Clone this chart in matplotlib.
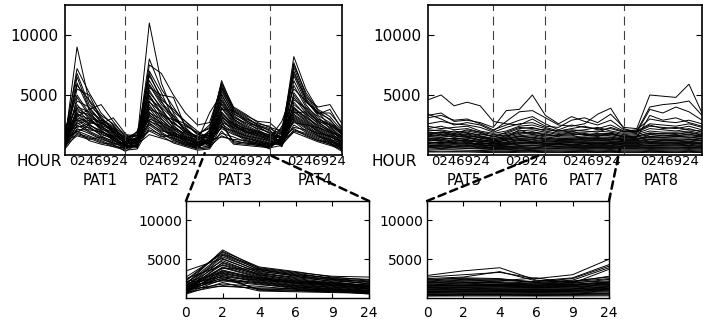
import numpy as np
import matplotlib
matplotlib.use("Agg")
import matplotlib.pyplot as plt
from matplotlib.patches import ConnectionPatch

# hours measured per patient pattern (PAT6 has only four samples)
HOURS = ["0", "2", "4", "6", "9", "24"]
HOURS_PAT6 = ["0", "2", "9", "24"]

# one row per gene, one column per hour (counts)
pat1 = [
    [1200, 9000, 4500, 3000, 2200, 1200], [1500, 7200, 5200, 3500, 2500, 1100],
    [1800, 6800, 4200, 3200, 2000, 900], [900, 6000, 3800, 4200, 2800, 1500],
    [1100, 5500, 5000, 3000, 1800, 1000], [2000, 5000, 3500, 2600, 2200, 1300],
    [700, 4800, 3300, 2500, 1500, 800], [1300, 4500, 4000, 2800, 2000, 1400],
    [1600, 4200, 3000, 2200, 1600, 700], [800, 4000, 3600, 3000, 2400, 1600],
    [2300, 3900, 3200, 2000, 1400, 900], [1000, 3800, 2800, 2400, 1700, 1000],
    [1400, 3600, 3400, 2600, 3100, 1800], [600, 3500, 2600, 1800, 1300, 600],
    [1900, 3400, 3000, 2300, 1900, 1200], [1200, 3300, 2500, 2000, 1500, 800],
    [900, 3200, 3800, 2100, 1200, 700], [1700, 3100, 2700, 2500, 2000, 1100],
    [1100, 3000, 2400, 1600, 1100, 500], [2500, 2900, 2200, 1900, 1600, 1300],
    [800, 2800, 3100, 2700, 2100, 1500], [1300, 2700, 2000, 1500, 1000, 600],
    [1500, 2600, 2900, 2200, 1800, 1000], [700, 2500, 1900, 1400, 900, 300],
    [1000, 2400, 2300, 1700, 1400, 900], [2000, 2300, 2600, 2900, 2300, 1400],
    [600, 2200, 1800, 1300, 1000, 700], [1200, 2100, 2100, 1900, 1500, 1100],
    [900, 2000, 1600, 1200, 800, 500], [1400, 1900, 2500, 2000, 1300, 800],
    [500, 1800, 1500, 1100, 700, 400], [1100, 1700, 1400, 1000, 900, 1000],
    [1800, 5800, 4600, 3300, 2600, 1700], [1000, 6500, 3900, 2700, 1900, 1200],
    [1300, 2000, 1200, 900, 700, 600], [800, 1600, 1300, 1500, 1200, 900],
]
pat2 = [
    [1400, 11000, 6000, 3500, 2000, 1500], [1200, 8000, 5500, 4000, 2500, 1800],
    [1000, 7500, 6800, 5000, 3500, 2500], [1600, 7000, 5200, 3000, 2200, 1400],
    [900, 6600, 4800, 3600, 2800, 2000], [1800, 6200, 4500, 2800, 1800, 1200],
    [800, 5800, 4200, 3200, 2000, 1000], [1300, 5600, 5000, 4800, 2300, 1300],
    [700, 5400, 3800, 2500, 1500, 900], [1500, 5200, 4000, 3000, 2600, 1700],
    [1100, 5000, 3500, 2200, 1400, 800], [2000, 4900, 3300, 2700, 1900, 1600],
    [900, 4700, 3900, 2400, 1700, 1100], [1200, 4500, 3000, 2000, 1200, 700],
    [600, 4400, 3600, 2600, 2100, 1500], [1400, 4200, 2800, 1900, 1300, 900],
    [1000, 4000, 3200, 2300, 1600, 1000], [1700, 3900, 2600, 1800, 1100, 600],
    [800, 3800, 3400, 2900, 2400, 1900], [1300, 3600, 2500, 1700, 1200, 800],
    [1100, 3500, 3000, 2100, 1500, 1200], [600, 3400, 2300, 1500, 1000, 500],
    [1500, 3300, 2700, 2200, 1800, 1400], [900, 3200, 2200, 1400, 900, 600],
    [1200, 3000, 2600, 1900, 1400, 1000], [1900, 2900, 2100, 1600, 1300, 1100],
    [700, 2800, 2400, 1600, 1100, 700], [1000, 2700, 1900, 1300, 800, 500],
    [1400, 2600, 2000, 1800, 1500, 1300], [800, 2500, 1800, 1200, 900, 800],
    [500, 2300, 1600, 1000, 700, 400], [1100, 2100, 1700, 1400, 1000, 900],
    [1600, 6800, 4600, 3800, 2800, 1700], [1200, 5900, 4400, 3300, 2000, 1300],
    [900, 1700, 1400, 1100, 800, 600], [1000, 2000, 1500, 1700, 1300, 1000],
]
pat3 = [
    [1800, 6200, 3800, 3200, 2500, 2000], [2200, 5900, 3600, 3000, 2600, 2400],
    [2700, 5700, 3900, 3300, 2800, 2700], [1500, 5500, 3400, 2900, 2300, 1800],
    [1300, 5300, 3500, 2800, 2100, 1600], [3500, 5100, 3200, 2500, 2000, 1500],
    [1000, 5000, 3300, 2600, 2200, 1900], [2000, 4800, 3000, 2400, 1900, 1400],
    [800, 4600, 3100, 2700, 2400, 2100], [1600, 4500, 2900, 2200, 1700, 1300],
    [1200, 4300, 3000, 2300, 1800, 1500], [2500, 4200, 2800, 2000, 1600, 1200],
    [900, 4000, 2700, 2100, 1900, 1700], [1400, 3900, 2600, 1900, 1500, 1100],
    [1100, 3800, 3700, 3100, 2500, 2200], [600, 3600, 2500, 1800, 1400, 1000],
    [1700, 3500, 2400, 2000, 1700, 1400], [1300, 3400, 2600, 2200, 2000, 1600],
    [800, 3300, 2300, 1700, 1300, 900], [2100, 3200, 2200, 1600, 1200, 800],
    [1000, 3100, 2500, 2000, 1800, 1500], [1500, 3000, 2100, 1500, 1100, 700],
    [700, 2900, 2000, 1400, 1100, 900], [1200, 2800, 1000, 900, 800, 700],
    [1900, 2700, 2300, 1900, 1600, 1300], [900, 2600, 1900, 1300, 1000, 600],
    [1400, 2500, 1100, 1000, 900, 800], [600, 2400, 1800, 1200, 900, 500],
    [1100, 2300, 2000, 1600, 1400, 1200], [1600, 2200, 1700, 1400, 1200, 1000],
    [500, 2000, 900, 800, 700, 600], [1000, 1800, 1500, 1100, 900, 800],
    [2300, 6000, 4000, 3400, 2700, 2300], [1800, 5600, 3700, 2900, 2400, 1800],
    [700, 1600, 1200, 1000, 800, 600], [1200, 1500, 1300, 1200, 1000, 900],
]
pat4 = [
    [1500, 8200, 5500, 3800, 3200, 2000], [1200, 7700, 5000, 3500, 3500, 2300],
    [1800, 7300, 4800, 4000, 4200, 2600], [1000, 7000, 4600, 3300, 2700, 1800],
    [2200, 6600, 4400, 3600, 2400, 1500], [900, 6200, 4200, 3000, 2500, 1700],
    [1400, 5800, 4000, 3200, 2200, 1200], [2800, 5500, 4500, 3400, 3800, 2100],
    [700, 5200, 3800, 2800, 2000, 1000], [1600, 5000, 3700, 2900, 2300, 1400],
    [1100, 4800, 3500, 2600, 1900, 1100], [2000, 4600, 3900, 3000, 2600, 1900],
    [800, 4400, 3300, 2400, 1800, 900], [1300, 4200, 3400, 2700, 2100, 1300],
    [1700, 4000, 3100, 2500, 2000, 1600], [900, 3900, 3000, 2200, 1600, 800],
    [1200, 3800, 3200, 2300, 1700, 1000], [1500, 3700, 2900, 2100, 1500, 1200],
    [1000, 3600, 2800, 2000, 1400, 700], [2400, 3500, 3600, 2800, 2500, 1800],
    [800, 3400, 2700, 1900, 1300, 600], [1300, 3300, 2600, 2000, 1500, 1100],
    [1100, 3200, 2500, 1800, 1200, 500], [1900, 3100, 2400, 1700, 1100, 900],
    [700, 3000, 2300, 1600, 1000, 400], [1400, 2900, 2200, 1800, 1600, 1400],
    [1000, 2800, 2000, 1500, 1200, 800], [1600, 2700, 2500, 2300, 1900, 1500],
    [900, 2500, 1900, 1400, 1000, 600], [1200, 2300, 2100, 1600, 1300, 1000],
    [800, 2100, 1800, 1300, 900, 300], [1100, 2000, 1700, 1200, 1100, 700],
    [2000, 7500, 5200, 3700, 2900, 1900], [1300, 6800, 4700, 3500, 3000, 1600],
    [1500, 2200, 1600, 1200, 900, 600], [900, 1900, 1500, 1100, 800, 500],
]
pat5 = [
    [4600, 5000, 4100, 4400, 4100, 2800], [3300, 3500, 2800, 2900, 2700, 2300],
    [3400, 3000, 2500, 2700, 2500, 2000], [3100, 3300, 2900, 3000, 2600, 2100],
    [2600, 2800, 2600, 2500, 2300, 1900], [2400, 2200, 2300, 2400, 2000, 1800],
    [2200, 2400, 2100, 2200, 1900, 1700], [2000, 2100, 1900, 2000, 1800, 1500],
    [1900, 1800, 2000, 1800, 1700, 1600], [1800, 1900, 1700, 1900, 1600, 1400],
    [1700, 1600, 1800, 1600, 1500, 1300], [1600, 1700, 1500, 1700, 1400, 1200],
    [1500, 1500, 1600, 1500, 1300, 1100], [1400, 1300, 1400, 1400, 1200, 1000],
    [1300, 1400, 1300, 1200, 1100, 1200], [1200, 1200, 1100, 1300, 1000, 900],
    [1100, 1000, 1200, 1100, 900, 1000], [1000, 1100, 1000, 1000, 800, 800],
    [900, 900, 900, 900, 900, 700], [800, 800, 850, 800, 700, 600],
    [700, 750, 700, 750, 650, 600], [600, 650, 600, 600, 550, 500],
    [500, 550, 500, 550, 500, 450], [400, 450, 420, 400, 380, 350],
    [300, 320, 300, 310, 300, 280], [2100, 2000, 1800, 2100, 1900, 1500],
    [1850, 1700, 1650, 1750, 1550, 1350], [1550, 1450, 1350, 1450, 1250, 1150],
    [1250, 1150, 1250, 1150, 1050, 950], [950, 1050, 950, 1050, 850, 750],
    [650, 700, 650, 700, 600, 550], [250, 250, 250, 250, 220, 200],
    [1650, 1900, 1600, 1550, 1450, 1250], [1350, 1250, 1450, 1250, 1150, 1050],
    [1050, 950, 1050, 950, 950, 850], [750, 850, 750, 850, 750, 650],
]
pat6 = [
    [2600, 2500, 3000, 2400], [3700, 3800, 5000, 3300], [2800, 3600, 3700, 3100],
    [2500, 2900, 3200, 2600], [2300, 2600, 2700, 2300], [2000, 2400, 2500, 2200],
    [1800, 2200, 2300, 2000], [1700, 2000, 2100, 1900], [1600, 1900, 1800, 1700],
    [1500, 1700, 1900, 1800], [1400, 1600, 1700, 1500], [1300, 1500, 1600, 1400],
    [1200, 1400, 1400, 1300], [1100, 1300, 1300, 1200], [1000, 1200, 1250, 1100],
    [950, 1100, 1100, 1000], [900, 1000, 1050, 950], [800, 900, 950, 900],
    [700, 800, 850, 800], [650, 700, 750, 700], [600, 650, 650, 600],
    [500, 550, 550, 500], [450, 480, 450, 420], [350, 380, 380, 350],
    [280, 300, 300, 280], [1900, 2300, 2200, 2100], [1600, 1800, 1950, 1650],
    [1350, 1550, 1450, 1350], [1050, 1250, 1150, 1150], [850, 950, 1000, 850],
    [550, 600, 600, 550], [200, 220, 230, 200], [1450, 2100, 1700, 1600],
    [1250, 1350, 1500, 1250], [900, 1050, 1100, 1000], [700, 750, 800, 750],
]
pat7 = [
    [2300, 2900, 3100, 2700, 3400, 2300], [2600, 3200, 2800, 2500, 2900, 2100],
    [2500, 2400, 2600, 3400, 3900, 2200], [2100, 2500, 2300, 2200, 2500, 2000],
    [2000, 2200, 2400, 2100, 2200, 1900], [1900, 2000, 2100, 2300, 2000, 1800],
    [1800, 1900, 1900, 2000, 1900, 1700], [1700, 1800, 1700, 1800, 1800, 1600],
    [1600, 1600, 1800, 1600, 1700, 1500], [1500, 1500, 1600, 1700, 1600, 1400],
    [1400, 1400, 1500, 1500, 1500, 1300], [1300, 1300, 1400, 1400, 1400, 1250],
    [1200, 1250, 1300, 1300, 1300, 1200], [1100, 1150, 1200, 1200, 1200, 1100],
    [1050, 1100, 1100, 1100, 1100, 1050], [950, 1000, 1000, 1000, 1000, 950],
    [900, 900, 950, 950, 950, 900], [850, 850, 900, 850, 900, 800],
    [750, 800, 800, 800, 800, 750], [650, 700, 700, 700, 700, 650],
    [600, 620, 640, 620, 640, 600], [500, 520, 540, 520, 540, 500],
    [420, 440, 450, 430, 450, 420], [340, 360, 370, 350, 370, 340],
    [270, 290, 300, 280, 300, 270], [2000, 2100, 2000, 1900, 2300, 1950],
    [1650, 1700, 1750, 1650, 1750, 1550], [1350, 1400, 1450, 1350, 1450, 1350],
    [1150, 1200, 1150, 1250, 1150, 1150], [850, 900, 950, 900, 950, 850],
    [550, 580, 600, 570, 600, 550], [200, 210, 220, 210, 220, 200],
    [1550, 2000, 1650, 1550, 1850, 1450], [1250, 1300, 1350, 1450, 1300, 1250],
    [1000, 1050, 1050, 1050, 1050, 1000], [700, 750, 750, 750, 750, 700],
]
pat8 = [
    [2200, 5000, 4900, 4800, 5900, 3500], [2000, 4000, 4200, 4300, 4500, 3300],
    [1900, 3800, 3500, 4000, 3600, 2900], [2100, 3000, 2800, 2700, 2900, 2600],
    [2000, 2600, 2500, 2400, 2600, 2300], [1900, 2400, 2300, 2200, 2400, 2100],
    [1800, 2200, 2100, 2000, 2200, 1900], [1700, 2000, 1900, 1900, 2000, 1800],
    [1600, 1800, 1800, 1700, 1900, 1700], [1500, 1700, 1600, 1600, 1700, 1600],
    [1400, 1550, 1500, 1500, 1600, 1500], [1300, 1450, 1400, 1400, 1450, 1350],
    [1200, 1350, 1300, 1300, 1350, 1250], [1100, 1250, 1200, 1200, 1250, 1150],
    [1050, 1150, 1100, 1100, 1150, 1050], [950, 1050, 1000, 1000, 1050, 950],
    [900, 950, 950, 900, 950, 900], [800, 850, 850, 850, 900, 800],
    [750, 800, 780, 760, 800, 750], [650, 700, 680, 660, 700, 650],
    [600, 640, 620, 600, 640, 600], [500, 540, 520, 500, 540, 500],
    [420, 450, 440, 420, 450, 420], [340, 370, 360, 340, 370, 340],
    [270, 300, 290, 270, 300, 270], [1950, 2500, 2200, 2300, 2100, 2000],
    [1550, 1850, 1750, 1800, 1850, 1650], [1350, 1500, 1450, 1550, 1500, 1400],
    [1150, 1300, 1250, 1200, 1300, 1200], [850, 950, 900, 950, 1000, 900],
    [550, 600, 580, 560, 600, 560], [200, 220, 210, 200, 220, 200],
    [1450, 3300, 2900, 3100, 2700, 2400], [1250, 1700, 1650, 1600, 1750, 1500],
    [1000, 1100, 1050, 1050, 1100, 1000], [700, 780, 760, 760, 780, 700],
]
# close-up of the low-expression group (lower right panel)
pat7_detail = [
    [2900, 3500, 3900, 2300, 2100, 2800], [2700, 3000, 3300, 2500, 3000, 5000],
    [2500, 2700, 3400, 2200, 2600, 4300], [2400, 2500, 2400, 2100, 2500, 4100],
    [2200, 2400, 2300, 2000, 2300, 3900], [2100, 2300, 2200, 2600, 1900, 3700],
    [2000, 2200, 2100, 1900, 2100, 2500], [1900, 2000, 2000, 1800, 2000, 2200],
    [1800, 1900, 1800, 1700, 1800, 2000], [1700, 1800, 1700, 1600, 1700, 1900],
    [1600, 1650, 1600, 1500, 1600, 1800], [1500, 1550, 1500, 1450, 1500, 1700],
    [1400, 1450, 1400, 1350, 1400, 1600], [1300, 1350, 1300, 1250, 1300, 1500],
    [1200, 1250, 1200, 1150, 1200, 1400], [1100, 1150, 1100, 1050, 1100, 1300],
    [1000, 1050, 1000, 950, 1000, 1200], [900, 950, 900, 900, 950, 1100],
    [800, 850, 850, 800, 850, 1000], [700, 750, 750, 700, 750, 900],
    [600, 650, 650, 620, 650, 800], [500, 550, 550, 520, 550, 650],
    [400, 450, 450, 420, 450, 500], [300, 350, 350, 320, 350, 400],
    [250, 260, 260, 250, 260, 280], [1950, 2100, 1900, 1800, 1900, 2400],
    [1650, 1700, 1750, 1650, 1750, 2100], [1350, 1400, 1450, 1300, 1450, 1750],
    [1050, 1100, 1150, 1100, 1150, 1450], [750, 800, 800, 850, 800, 1150],
    [450, 500, 500, 480, 500, 600], [2300, 2600, 2500, 2000, 2200, 2700],
    [1550, 1600, 1650, 1550, 1650, 2000], [850, 900, 950, 900, 950, 1250],
]

YMAX = 12500
YTICKS = [5000, 10000]

plt.rcParams["font.family"] = ["DejaVu Sans"]
fig = plt.figure(figsize=(7.03, 3.22), dpi=100)

ax_tl = fig.add_axes([65 / 703, 167 / 322, 277 / 703, 150 / 322])
ax_tr = fig.add_axes([428 / 703, 167 / 322, 274 / 703, 150 / 322])
ax_bl = fig.add_axes([186 / 703, 24 / 322, 183 / 703, 97 / 322])
ax_br = fig.add_axes([427 / 703, 24 / 322, 182 / 703, 97 / 322])


def draw_overview(ax, pats, names, hour_sets, name_x, hour_dx):
    data = np.hstack([np.asarray(p, float) for p in pats])
    x = np.arange(1, data.shape[1] + 1)
    for row in data:
        ax.plot(x, row, color="black", lw=0.7)
    # dashed separators at the last sample of each pattern
    ends = np.cumsum([len(p[0]) for p in pats])
    for e in ends[:-1]:
        ax.axvline(e, color="0.25", lw=0.8, ls=(0, (8, 5)))
    starts = np.concatenate([[1], ends[:-1] + 1])
    ax.set_xlim(1, x[-1])
    ax.set_ylim(0, YMAX)
    ax.set_yticks(YTICKS)
    ax.set_xticks([(s + e) / 2 + dx for s, e, dx in zip(starts, ends, hour_dx)])
    ax.set_xticklabels(["".join(h) for h in hour_sets], fontsize=9.5)
    ax.tick_params(axis="x", length=0, pad=0)
    ax.tick_params(axis="y", direction="in", left=True, right=True, length=4,
                   labelsize=11, pad=5)
    for nx, nm in zip(name_x, names):
        ax.text(nx, -0.197, nm, transform=ax.get_xaxis_transform(),
                ha="center", va="baseline", fontsize=10.5)
    for sp in ax.spines.values():
        sp.set_linewidth(1.2)


draw_overview(ax_tl, [pat1, pat2, pat3, pat4], ["PAT1", "PAT2", "PAT3", "PAT4"],
              [HOURS] * 4, [3.9, 9.1, 15.1, 21.8], [0.3, 0.0, 0.25, 0.4])
draw_overview(ax_tr, [pat5, pat6, pat7, pat8], ["PAT5", "PAT6", "PAT7", "PAT8"],
              [HOURS, HOURS_PAT6, HOURS, HOURS], [3.8, 8.9, 13.1, 18.9],
              [0.0, 0.0, 0.0, 0.0])
ax_tl.text(-0.011, -0.043, "HOUR", transform=ax_tl.transAxes, ha="right",
           va="center", fontsize=11)
ax_tr.text(-0.04, -0.043, "HOUR", transform=ax_tr.transAxes, ha="right",
           va="center", fontsize=11)


def draw_detail(ax, pat):
    data = np.asarray(pat, float)
    x = np.arange(1, data.shape[1] + 1)
    for row in data:
        ax.plot(x, row, color="black", lw=0.7)
    ax.set_xlim(1, x[-1])
    ax.set_ylim(0, YMAX)
    ax.set_xticks(x)
    ax.set_xticklabels(HOURS)
    ax.set_yticks(YTICKS)
    ax.tick_params(direction="in", top=True, right=True, length=3.5,
                   labelsize=10)
    ax.tick_params(axis="x", pad=6)
    ax.tick_params(axis="y", pad=3)
    for sp in ax.spines.values():
        sp.set_linewidth(1.0)


draw_detail(ax_bl, pat3)
draw_detail(ax_br, pat7_detail)

# thick dashed zoom connectors
links = [(ax_bl, (0, 1), ax_tl, (12.6, 150)), (ax_bl, (1, 1), ax_tl, (18.0, 0)),
         (ax_br, (0, 1), ax_tr, (9.6, 0)), (ax_br, (1, 1), ax_tr, (15.7, 500))]
for a_low, pa, a_top, pb in links:
    con = ConnectionPatch(xyA=pa, coordsA=a_low.transAxes, xyB=pb,
                          coordsB=a_top.transData, color="black", lw=1.8,
                          ls=(0, (3, 2)), zorder=10)
    con.set_clip_on(False)
    fig.add_artist(con)

fig.savefig("out.png", dpi=100)
